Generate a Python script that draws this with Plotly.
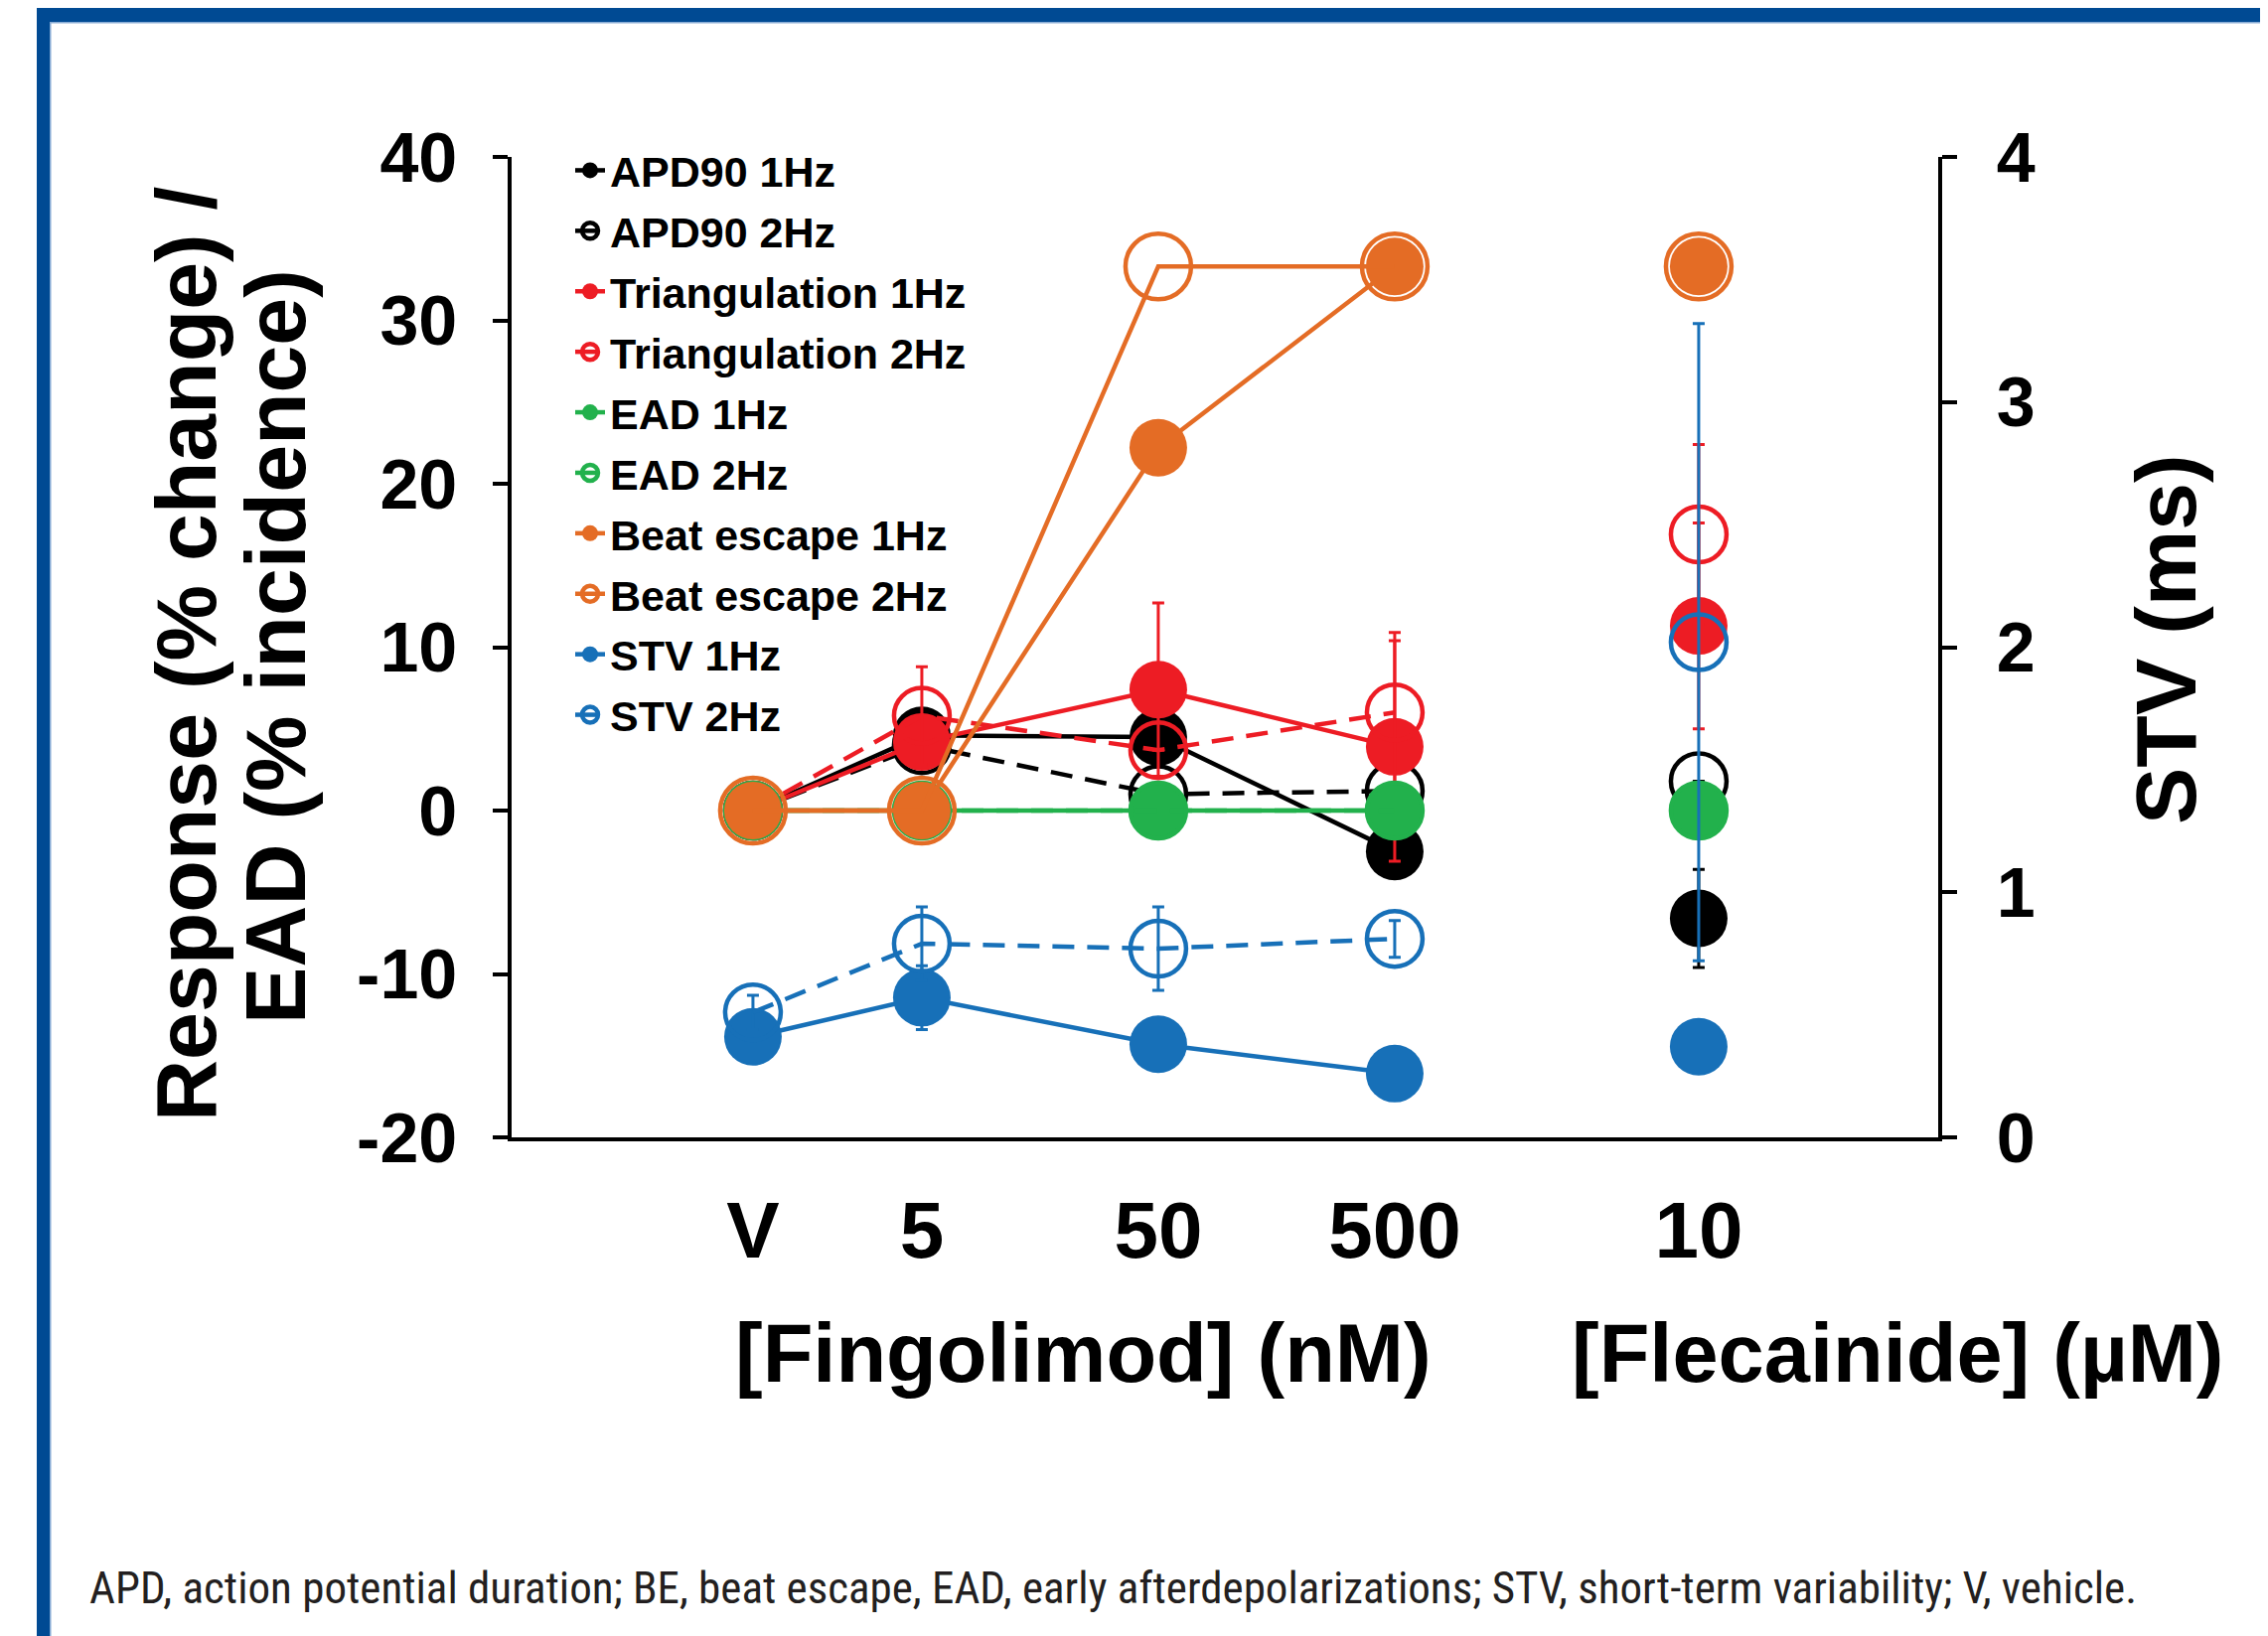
import plotly.graph_objects as go

# ---------------- data ----------------
categories = ["V", "5", "50", "500", "10"]          # last one = flecainide 10 µM
x_positions = [1.0, 2.0, 3.4, 4.8, 6.6]

apd_1hz = [0, 4.6, 4.5, -2.5, -6.6]
apd_1hz_err = [0, 0, 0, 0, 3.0]
apd_2hz = [0, 4.0, 1.0, 1.2, 1.8]
apd_2hz_err = [0, 0, 0, 0, 0]
tri_1hz = [0, 4.2, 7.4, 3.9, 11.3]
tri_1hz_err = [0, 0, 5.3, 7.0, 6.3]
tri_2hz = [0, 5.8, 3.7, 6.0, 16.9]
tri_2hz_err = [0, 3.0, 0, 4.4, 5.5]
ead_1hz = [0, 0, 0, 0, 0]
ead_2hz = [0, 0, 0, 0, 0]
be_1hz = [0, 0, 22.2, 33.3, 33.3]
be_2hz = [0, 0, 33.3, 33.3, 33.3]
stv_1hz = [0.41, 0.57, 0.38, 0.26, 0.37]          # ms (right axis)
stv_1hz_err = [0.03, 0.13, 0, 0, 0]
stv_2hz = [0.51, 0.79, 0.77, 0.81, 2.02]          # ms (right axis)
stv_2hz_err = [0.07, 0.15, 0.17, 0.075, 1.3]

left_ticks = [-20, -10, 0, 10, 20, 30, 40]
left_ticktext = ["-20", "-10", "0", "10", "20", "30", "40"]
right_ticks = [0, 1, 2, 3, 4]

caption = ("APD, action potential duration; BE, beat escape, EAD, early afterdepolarizations; "
           "STV, short-term variability; V, vehicle.")

# ---------------- styling ----------------
BLACK = "#000000"
RED = "#ed1c24"
GREEN = "#22b14c"
ORANGE = "#e46c25"
BLUE = "#1770b8"
BAND = "#004a93"
EDGE = "#86aad4"
FONT = "Liberation Sans, Arial, sans-serif"

W, H = 2283, 1647
L, R, T, B = 507, 1943, 150, 1137   # plot-area pixel box

def px_x(px):
    return (px - L) / (R - L)

def px_y(py):
    return (B - py) / (B - T)

DASH = "22px,13px"
series = [
    ("APD90 1Hz", apd_1hz, apd_1hz_err, BLACK, "solid", True, 58, "y"),
    ("APD90 2Hz", apd_2hz, apd_2hz_err, BLACK, DASH, False, 56, "y"),
    ("Triangulation 1Hz", tri_1hz, tri_1hz_err, RED, "solid", True, 58, "y"),
    ("Triangulation 2Hz", tri_2hz, tri_2hz_err, RED, DASH, False, 56, "y"),
    ("EAD 1Hz", ead_1hz, None, GREEN, "solid", True, 58, "y"),
    ("EAD 2Hz", ead_2hz, None, GREEN, DASH, False, 56, "y"),
    ("Beat escape 1Hz", be_1hz, None, ORANGE, "solid", True, 58, "y"),
    ("Beat escape 2Hz", be_2hz, None, ORANGE, "solid", False, 66, "y"),
    ("STV 1Hz", stv_1hz, stv_1hz_err, BLUE, "solid", True, 58, "y2"),
    ("STV 2Hz", stv_2hz, stv_2hz_err, BLUE, DASH, False, 56, "y2"),
]

fig = go.Figure()
for name, vals, err, color, dash, filled, size, yax in series:
    marker = dict(
        symbol="circle" if filled else "circle-open",
        size=size,
        color=color,
        line=dict(color=color, width=4.5 if not filled else 0),
    )
    def ebar(sl):
        if err is None:
            return None
        return dict(type="data", array=err[sl], symmetric=True, color=color,
                    thickness=3, width=6)
    # fingolimod series (connected)
    fig.add_trace(go.Scatter(
        x=x_positions[:4], y=vals[:4], name=name, legendgroup=name,
        mode="lines+markers", line=dict(color=color, width=4.5, dash=dash),
        marker=marker, error_y=ebar(slice(0, 4)), yaxis=yax,
    ))
    # flecainide point (not connected)
    fig.add_trace(go.Scatter(
        x=x_positions[4:], y=vals[4:], name=name, legendgroup=name,
        mode="markers", marker=marker, error_y=ebar(slice(4, 5)),
        showlegend=False, yaxis=yax,
    ))

tick_font = dict(family=FONT, size=70, color="black", weight="bold")

fig.update_layout(
    width=W, height=H,
    margin=dict(l=L, r=W - R, t=T, b=H - B, pad=0),
    paper_bgcolor="white", plot_bgcolor="white",
    font=dict(family=FONT, color="black"),
    showlegend=True,
    legend=dict(
        x=px_x(566), y=px_y(129), xanchor="left", yanchor="top",
        font=dict(family=FONT, size=43, color="black", weight="bold"),
        bgcolor="rgba(0,0,0,0)", tracegroupgap=2, traceorder="grouped",
        itemsizing="trace",
    ),
    xaxis=dict(
        range=[-0.429, 8.018], tickmode="array", tickvals=x_positions,
        ticktext=categories, showline=True, linecolor="black", linewidth=3.5,
        ticks="", showgrid=False, zeroline=False,
        tickfont=dict(family=FONT, size=80, color="black", weight="bold"),
        ticklabelstandoff=21,
    ),
    yaxis=dict(
        range=[-20, 40], tickmode="array", tickvals=left_ticks,
        ticktext=left_ticktext,
        showline=True, linecolor="black", linewidth=3.5, ticks="outside",
        ticklen=15, tickwidth=3.5, tickcolor="black", showgrid=False,
        zeroline=False, tickfont=tick_font, ticklabelstandoff=22,
    ),
    yaxis2=dict(
        range=[0, 4], tickmode="array", tickvals=right_ticks,
        overlaying="y", side="right", showline=True, linecolor="black",
        linewidth=3.5, ticks="outside", ticklen=15, tickwidth=3.5,
        tickcolor="black", showgrid=False, zeroline=False,
        tickfont=tick_font, ticklabelstandoff=26,
    ),
)

title_font = dict(family=FONT, size=86, color="black", weight="bold")
annotations = [
    dict(text="Response (% change) /", x=px_x(179), y=px_y(650), textangle=-90,
         font=title_font),
    dict(text="EAD (% incidence)", x=px_x(269), y=px_y(643), textangle=-90,
         font=title_font),
    dict(text="STV (ms)", x=px_x(2172), y=px_y(636), textangle=-90,
         font=title_font),
    dict(text="[Fingolimod] (nM)", x=px_x(1082), y=px_y(1354),
         font=dict(family=FONT, size=83, color="black", weight="bold")),
    dict(text="[Flecainide] (µM)", x=px_x(1902), y=px_y(1354),
         font=dict(family=FONT, size=83, color="black", weight="bold")),
    dict(text=caption, x=px_x(80), y=px_y(1590), xanchor="left",
         font=dict(family="Liberation Sans Narrow, Arial Narrow, Roboto Condensed, Liberation Sans, sans-serif",
                   size=45, color="#231f20")),
]
for a in annotations:
    a.update(xref="paper", yref="paper", showarrow=False)
    a.setdefault("xanchor", "center")
    a.setdefault("yanchor", "middle")
fig.update_layout(annotations=annotations)

# page frame: blue band on top and left
shapes = [
    dict(type="rect", x0=px_x(29), x1=px_x(W + 5), y0=px_y(-5), y1=px_y(14),
         fillcolor=BAND, line=dict(width=0)),
    dict(type="rect", x0=px_x(42), x1=px_x(W + 5), y0=px_y(14), y1=px_y(15.5),
         fillcolor=EDGE, line=dict(width=0)),
    dict(type="rect", x0=px_x(29), x1=px_x(42), y0=px_y(-5), y1=px_y(H + 5),
         fillcolor=BAND, line=dict(width=0)),
    dict(type="rect", x0=px_x(42), x1=px_x(43.5), y0=px_y(14), y1=px_y(H + 5),
         fillcolor=EDGE, line=dict(width=0)),
]
for s in shapes:
    s.update(xref="paper", yref="paper", layer="above")
fig.update_layout(shapes=shapes)

fig.write_html("out.html")
